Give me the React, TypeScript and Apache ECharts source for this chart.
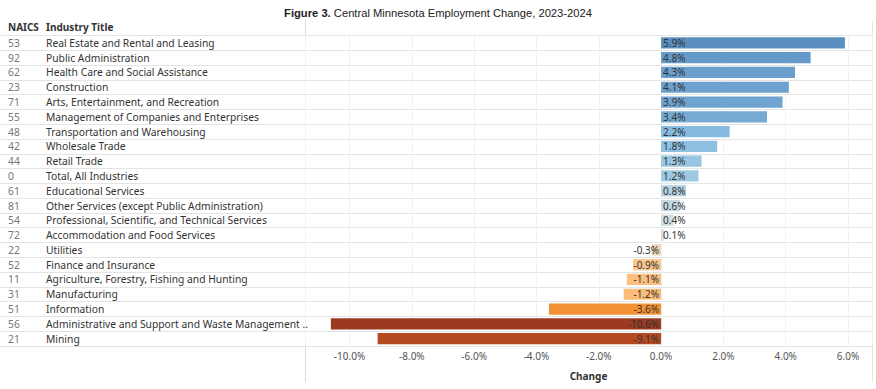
import { useEffect, useRef } from 'react';
import * as echarts from 'echarts';

const naicsCodes = ['53', '92', '62', '23', '71', '55', '48', '42', '44', '0', '61', '81', '54', '72', '22', '52', '11', '31', '51', '56', '21'];
const industryTitles = [
  'Real Estate and Rental and Leasing',
  'Public Administration',
  'Health Care and Social Assistance',
  'Construction',
  'Arts, Entertainment, and Recreation',
  'Management of Companies and Enterprises',
  'Transportation and Warehousing',
  'Wholesale Trade',
  'Retail Trade',
  'Total, All Industries',
  'Educational Services',
  'Other Services (except Public Administration)',
  'Professional, Scientific, and Technical Services',
  'Accommodation and Food Services',
  'Utilities',
  'Finance and Insurance',
  'Agriculture, Forestry, Fishing and Hunting',
  'Manufacturing',
  'Information',
  'Administrative and Support and Waste Management ..',
  'Mining',
];
const changePct = [5.9, 4.8, 4.3, 4.1, 3.9, 3.4, 2.2, 1.8, 1.3, 1.2, 0.8, 0.6, 0.4, 0.1, -0.3, -0.9, -1.1, -1.2, -3.6, -10.6, -9.1];

const POS_RAMP: [number, string][] = [
  [0, '#dcdcdc'], [0.4, '#d0dde3'], [0.8, '#b6d3e3'], [1.3, '#98c6e2'],
  [2.2, '#85bbe0'], [3.4, '#76aad3'], [4.3, '#6a9fcd'], [5.9, '#5a8fc0'],
];
const NEG_RAMP: [number, string][] = [
  [0, '#dcdcdc'], [0.3, '#e9d3b5'], [0.9, '#fac68b'], [1.2, '#fbbd77'],
  [3.6, '#f39234'], [9.1, '#b54a22'], [10.6, '#9c3a21'],
];

function rampColor(v: number): string {
  const stops = v >= 0 ? POS_RAMP : NEG_RAMP;
  const a = Math.abs(v);
  for (let i = 0; i < stops.length - 1; i++) {
    const [a0, c0] = stops[i];
    const [a1, c1] = stops[i + 1];
    if (a <= a1) {
      const t = (a - a0) / (a1 - a0);
      return echarts.color.lerp(Math.max(0, Math.min(1, t)), [c0, c1]) as string;
    }
  }
  return stops[stops.length - 1][1];
}

const FONT = 'Noto Sans';
const GRID_TOP = 35.5;
const GRID_H = 310.5;
const SPLIT_X = 305;
const RIGHT_X = 872;

export default function App() {
  const ref = useRef<HTMLDivElement>(null);
  useEffect(() => {
    document.body.style.margin = '0';
    if (!ref.current) return;
    const chart = echarts.init(ref.current, null, { renderer: 'svg' });
    const pct = (v: number) => v.toFixed(1) + '%';
    chart.setOption({
      animation: false,
      backgroundColor: '#ffffff',
      title: {
        text: '{b|Figure 3.} Central Minnesota Employment Change, 2023-2024',
        left: 'center',
        top: 2,
        textStyle: {
          fontFamily: 'Liberation Sans',
          fontSize: 11.2,
          fontWeight: 'normal',
          color: '#222',
          rich: { b: { fontFamily: 'Liberation Sans', fontSize: 11.2, fontWeight: 'bold', color: '#222' } },
        },
      },
      grid: [
        { left: SPLIT_X, top: GRID_TOP, width: RIGHT_X - SPLIT_X, height: GRID_H },
        { left: 0, top: GRID_TOP, width: SPLIT_X, height: GRID_H },
      ],
      xAxis: [
        {
          type: 'value',
          gridIndex: 0,
          min: -11.43,
          max: 6.77,
          splitNumber: 9,
          minInterval: 2,
          maxInterval: 2,
          axisLine: { show: false },
          axisTick: { show: false },
          axisLabel: {
            formatter: (v: number) => pct(v),
            showMinLabel: false,
            showMaxLabel: false,
            color: '#555',
            fontSize: 10,
            fontFamily: FONT,
            margin: 5,
          },
          splitLine: { show: true, lineStyle: { color: '#f1f1f1', width: 1 } },
          name: 'Change',
          nameLocation: 'middle',
          nameGap: 25,
          nameTextStyle: { fontFamily: FONT, fontSize: 10, fontWeight: 'bold', color: '#333' },
        },
        { type: 'value', gridIndex: 1, min: 0, max: 1, show: false },
      ],
      yAxis: [
        {
          type: 'category',
          gridIndex: 0,
          data: industryTitles,
          inverse: true,
          axisLine: { show: false },
          axisTick: { show: false },
          axisLabel: { show: false, interval: 0 },
          splitLine: { show: true, interval: 0, lineStyle: { color: '#e4e4e4', width: 1 } },
        },
        {
          type: 'category',
          gridIndex: 1,
          data: industryTitles,
          inverse: true,
          axisLine: { show: false },
          axisTick: { show: false },
          axisLabel: {
            inside: true,
            interval: 0,
            margin: 8,
            formatter: (v: string, i: number) => `{c|${naicsCodes[i]}}{t|${v}}`,
            rich: {
              c: { width: 38, color: '#777', fontSize: 10.3, fontFamily: FONT },
              t: { color: '#333', fontSize: 10.3, fontFamily: FONT },
            },
          },
          splitLine: { show: true, interval: 0, lineStyle: { color: '#e4e4e4', width: 1 } },
        },
      ],
      graphic: [
        {
          type: 'text', left: 8, top: 22,
          style: { text: 'NAICS', fontFamily: FONT, fontSize: 10, fontWeight: 'bold', fill: '#333' },
        },
        {
          type: 'text', left: 46, top: 22,
          style: { text: 'Industry Title', fontFamily: FONT, fontSize: 10, fontWeight: 'bold', fill: '#333' },
        },
        {
          type: 'line', shape: { x1: SPLIT_X + 0.5, y1: 20, x2: SPLIT_X + 0.5, y2: 382 },
          style: { stroke: '#dadada', lineWidth: 1 },
        },
        {
          type: 'line', shape: { x1: RIGHT_X + 0.5, y1: 20, x2: RIGHT_X + 0.5, y2: 382 },
          style: { stroke: '#e6e6e6', lineWidth: 1 },
        },
      ],
      series: [
        {
          type: 'bar',
          xAxisIndex: 0,
          yAxisIndex: 0,
          barCategoryGap: '24%',
          data: changePct.map((v) => ({
            value: v,
            itemStyle: { color: rampColor(v) },
            label: { position: v >= 0 ? 'insideLeft' : 'insideRight' },
          })),
          label: {
            show: true,
            distance: 2,
            formatter: (p: any) => pct(p.value),
            fontFamily: FONT,
            fontSize: 10,
            color: '#333',
          },
        },
      ],
    });
    return () => chart.dispose();
  }, []);
  return <div ref={ref} style={{ width: 876, height: 389 }} />;
}
